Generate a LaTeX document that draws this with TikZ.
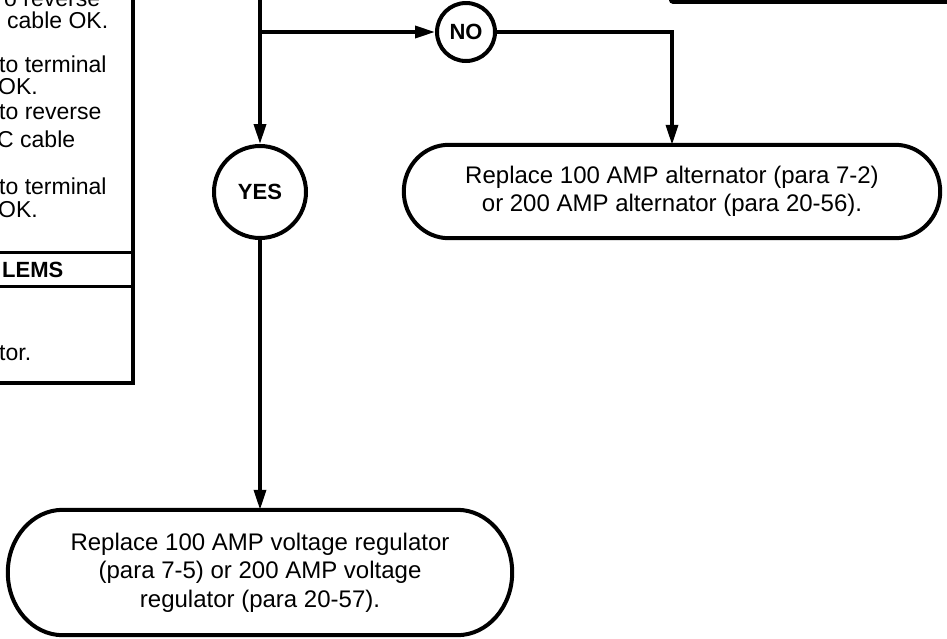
\documentclass[tikz,border=0pt]{standalone}
\usepackage{fontspec}
\setmainfont{Liberation Sans}
\usetikzlibrary{arrows.meta,calc}
\tikzset{
  conn/.style={line width=3.5pt},
  tip/.style={-{Triangle[length=20pt,width=12pt]}},
  decision/.style={circle, draw, line width=4pt, inner sep=0pt,
    font=\fontsize{22}{24}\selectfont\bfseries},
  actbox/.style={rectangle, draw=none, align=center, inner sep=0pt,
    font=\fontsize{24}{28.5}\selectfont},
  outline/.style={line width=4pt},
  panelline/.style={line width=4pt},
  rule/.style={line width=3pt},
  paneltext/.style={anchor=base west, inner sep=0pt,
    font=\fontsize{23}{26}\selectfont},
  panelhead/.style={anchor=base west, inner sep=0pt,
    font=\fontsize{22}{24}\selectfont\bfseries},
}
\newcommand\stadiumpath[2]{%
  \draw[outline] let \p1=(#1.north west), \p2=(#1.south east) in
    (\x1+#2pt,\y1) -- (\x2-#2pt,\y1)
    arc[start angle=90,end angle=-90,x radius=#2pt,y radius={(\y1-\y2)/2}]
    -- (\x1+#2pt,\y2)
    arc[start angle=270,end angle=90,x radius=#2pt,y radius={(\y1-\y2)/2}]
    -- cycle;}
\begin{document}
\begin{tikzpicture}[x=1pt,y=-1pt]
\useasboundingbox (0,0) rectangle (947,638);
\clip (0,0) rectangle (947,638);

% left panel (cut off)
\draw[panelline] (133,-10) -- (133,383) -- (-10,383);
\draw[rule] (-10,252) -- (133,252);
\draw[rule] (-10,286) -- (133,286);
\node[paneltext] (t1) at (4,6) {o reverse};
\node[paneltext] (t2) at (7,28) {cable OK.};
\node[paneltext] (t3) at (-1,72) {to terminal};
\node[paneltext] (t4) at (-2,94) {OK.};
\node[paneltext] (t5) at (-1,119) {to reverse};
\node[paneltext] (t6) at (-3,147) {C cable};
\node[paneltext] (t7) at (-1,194) {to terminal};
\node[paneltext] (t8) at (-2,217) {OK.};
\node[panelhead] (t9) at (2,277) {LEMS};
\node[paneltext] (t10) at (-1,360) {tor.};

% top-right box (cut off)
\draw[panelline, rounded corners=2pt] (671,-10) -- (671,1.8) -- (960,1.8);

% flow
\coordinate (src) at (260,-10);
\coordinate (branch) at (260,32);
\node[decision, minimum size=58pt] (no) at (466,32) {NO};
\node[decision, minimum size=92pt] (yes) at (260,192) {YES};
\node[actbox, minimum width=536pt, minimum height=93pt] (alt) at (672,191.5)
  {Replace 100 AMP alternator (para 7-2)\\or 200 AMP alternator (para 20-56).};
\stadiumpath{alt}{45}
\node[actbox, minimum width=504pt, minimum height=125pt] (reg) at (260,572.5)
  {Replace 100 AMP voltage regulator\\(para 7-5) or 200 AMP voltage\\regulator (para 20-57).};
\stadiumpath{reg}{55}

\draw[conn, tip] (src) -- (yes.north);
\draw[conn, tip] (branch) -- (no.west);
\draw[conn, tip] (no.east) -| (alt.north);
\draw[conn, tip] (yes.south) -- (reg.north);
\end{tikzpicture}
\end{document}
